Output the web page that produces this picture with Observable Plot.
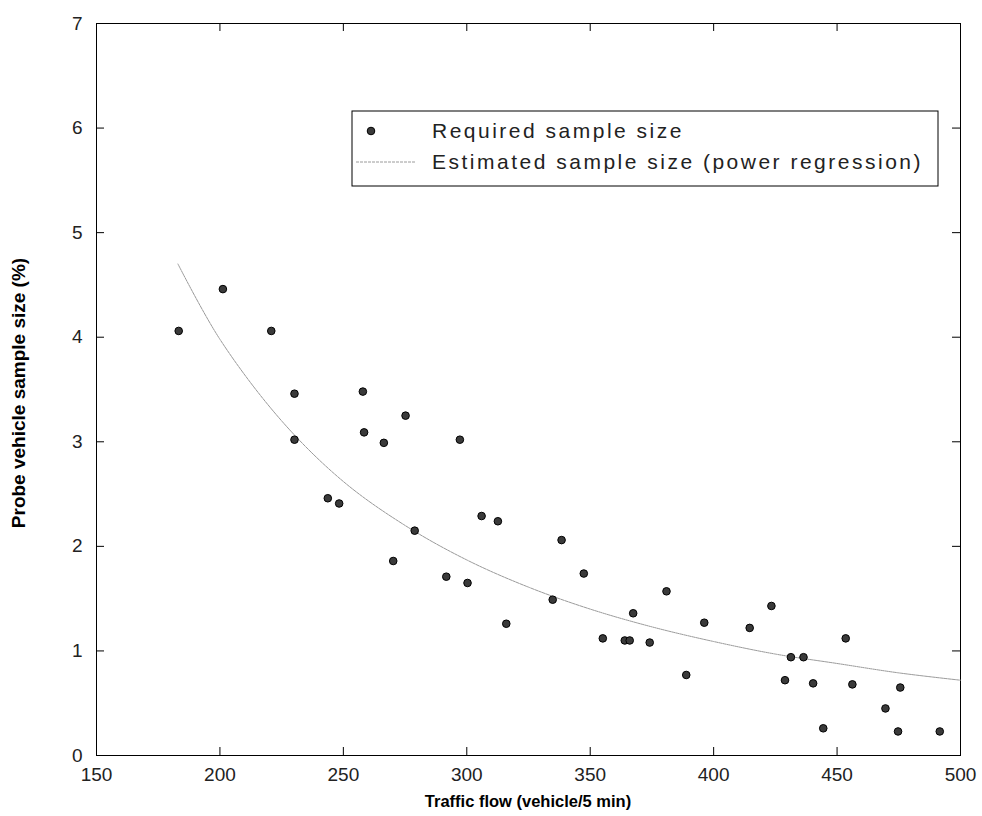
<!DOCTYPE html>
<html>
<head>
<meta charset="utf-8">
<script src="https://cdn.jsdelivr.net/npm/d3@7"></script>
<script src="https://cdn.jsdelivr.net/npm/@observablehq/plot@0.6"></script>
<style>
  html, body { margin: 0; padding: 0; background: #fff; }
  #chart { width: 982px; height: 816px; position: relative; }
</style>
</head>
<body>
<div id="chart"></div>
<script>
// Observed points: traffic flow (vehicle/5 min) vs required probe sample size (%)
const flow = [183.3, 201.2, 220.8, 230.2, 230.2, 257.9, 258.4, 266.4, 243.7, 248.3, 270.2, 275.2, 297.2, 306.0, 312.6, 278.9, 338.4, 291.7, 300.3, 347.4, 380.9, 334.8, 367.4, 316.0, 423.4, 396.2, 414.6, 453.5, 355.1, 364.0, 366.0, 374.1, 431.3, 436.4, 388.9, 428.9, 440.3, 456.2, 475.6, 469.6, 444.4, 474.7, 491.6];
const sampleSize = [4.06, 4.46, 4.06, 3.46, 3.02, 3.48, 3.09, 2.99, 2.46, 2.41, 1.86, 3.25, 3.02, 2.29, 2.24, 2.15, 2.06, 1.71, 1.65, 1.74, 1.57, 1.49, 1.36, 1.26, 1.43, 1.27, 1.22, 1.12, 1.12, 1.10, 1.10, 1.08, 0.94, 0.94, 0.77, 0.72, 0.69, 0.68, 0.65, 0.45, 0.26, 0.23, 0.23];

// Estimated curve (power regression)
const curveFlow = [183, 200, 225, 250, 275, 300, 325, 350, 375, 400, 425, 450, 475, 500];
const curveSize = [4.70, 3.98, 3.20, 2.62, 2.20, 1.87, 1.61, 1.40, 1.23, 1.09, 0.97, 0.88, 0.79, 0.72];

const xTicks = [150, 200, 250, 300, 350, 400, 450, 500];
const yTicks = [0, 1, 2, 3, 4, 5, 6, 7];

const legendLabels = ["Required sample size", "Estimated sample size (power regression)"];
const xLabel = "Traffic flow (vehicle/5 min)";
const yLabel = "Probe vehicle sample size (%)";

const points = flow.map((x, i) => ({x, y: sampleSize[i]}));
const curve = curveFlow.map((x, i) => ({x, y: curveSize[i]}));

const W = 982, H = 816;
const mL = 96, mR = 22, mT = 23, mB = 61;
const innerH = H - mT - mB;
const innerW = W - mL - mR;
const tickLen = 8;
const tickFont = "'Liberation Sans', Arial, sans-serif";

const plot = Plot.plot({
  width: W,
  height: H,
  marginLeft: mL,
  marginRight: mR,
  marginTop: mT,
  marginBottom: mB,
  style: {fontFamily: tickFont, background: "#fff", color: "#000"},
  x: {domain: [150, 500]},
  y: {domain: [0, 7]},
  marks: [
    Plot.frame({stroke: "#000", strokeWidth: 1}),
    // inward ticks (bottom/top)
    Plot.ruleX(xTicks, {x: d => d, insetTop: innerH - tickLen, stroke: "#000"}),
    Plot.ruleX(xTicks, {x: d => d, insetBottom: innerH - tickLen, stroke: "#000"}),
    // inward ticks (left/right)
    Plot.ruleY(yTicks, {y: d => d, insetRight: innerW - tickLen, stroke: "#000"}),
    Plot.ruleY(yTicks, {y: d => d, insetLeft: innerW - tickLen, stroke: "#000"}),
    Plot.axisX({ticks: xTicks, tickSize: 0, tickPadding: 12, fontSize: 19, fill: "#222", label: null, tickFormat: d => String(d)}),
    Plot.axisY({ticks: yTicks, tickSize: 0, tickPadding: 14, fontSize: 19, fill: "#222", label: null, tickFormat: d => String(d)}),
    Plot.line(curve, {x: "x", y: "y", stroke: "#9a9a9a", strokeWidth: 1, strokeDasharray: "3,1", curve: "catmull-rom"}),
    Plot.dot(points, {x: "x", y: "y", r: 3.8, fill: "#3a3a3a", stroke: "#000", strokeWidth: 1})
  ]
});

document.getElementById("chart").appendChild(plot);

const svg = d3.select(plot);
const boldFont = "'Liberation Sans', Arial, sans-serif";

// axis titles
svg.append("text")
  .attr("x", 528).attr("y", H - 9)
  .attr("text-anchor", "middle")
  .attr("font-family", boldFont).attr("font-weight", "bold").attr("font-size", 16.5)
  .attr("fill", "#000")
  .text(xLabel);
svg.append("text")
  .attr("transform", `translate(25, 393) rotate(-90)`)
  .attr("text-anchor", "middle")
  .attr("font-family", boldFont).attr("font-weight", "bold").attr("font-size", 19)
  .attr("fill", "#000")
  .text(yLabel);

// legend
const lg = svg.append("g").attr("text-anchor", "start");
lg.append("rect").attr("x", 352).attr("y", 111).attr("width", 586).attr("height", 75)
  .attr("fill", "#fff").attr("stroke", "#000").attr("stroke-width", 1);
lg.append("circle").attr("cx", 371).attr("cy", 131).attr("r", 3.8)
  .attr("fill", "#3a3a3a").attr("stroke", "#000");
lg.append("line").attr("x1", 356).attr("x2", 416).attr("y1", 162).attr("y2", 162)
  .attr("stroke", "#9a9a9a").attr("stroke-width", 1).attr("stroke-dasharray", "3,1");
legendLabels.forEach((t, i) => {
  lg.append("text").attr("x", 432).attr("y", 138 + i * 31)
    .attr("text-anchor", "start")
    .attr("font-family", tickFont).attr("font-size", 21)
    .attr("letter-spacing", 2.5).attr("fill", "#222")
    .text(t);
});
</script>
</body>
</html>
